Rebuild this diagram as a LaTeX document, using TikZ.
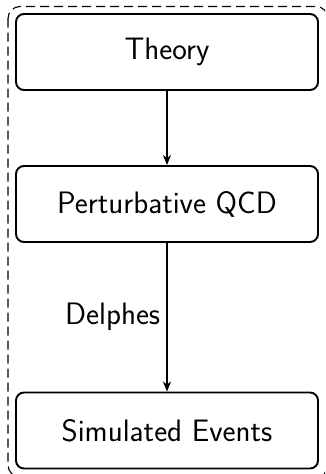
\documentclass[tikz,border=0pt]{standalone}
\usetikzlibrary{arrows.meta}
\begin{document}
\begin{tikzpicture}[x=1pt,y=1pt,
  font=\sffamily\fontsize{31}{37}\selectfont,
  stepbox/.style={draw, line width=1.9pt, rounded corners=8pt, minimum width=302pt, minimum height=76pt, inner sep=0pt},
  flow/.style={line width=1.7pt, -{Stealth[length=10pt,width=8pt,inset=3pt]}},
  frame/.style={draw, dash pattern=on 9pt off 5pt, line width=1.1pt, rounded corners=12pt}]
\useasboundingbox (0,0) rectangle (325,-474);
\begin{scope}
\clip (0,0) rectangle (325,-474);
\draw[frame] (8,-6.5) rectangle (328,-477);
\end{scope}
\node[stepbox] (theory) at (167,-52) {Theory};
\node[stepbox] (pqcd) at (167,-204) {Perturbative QCD};
\node[stepbox] (sim) at (167,-430.5) {Simulated Events};
\draw[flow] (theory) -- (pqcd);
\draw[flow] (pqcd) -- node[midway, left, inner sep=6pt] (delphes) {Delphes} (sim);
\end{tikzpicture}
\end{document}
